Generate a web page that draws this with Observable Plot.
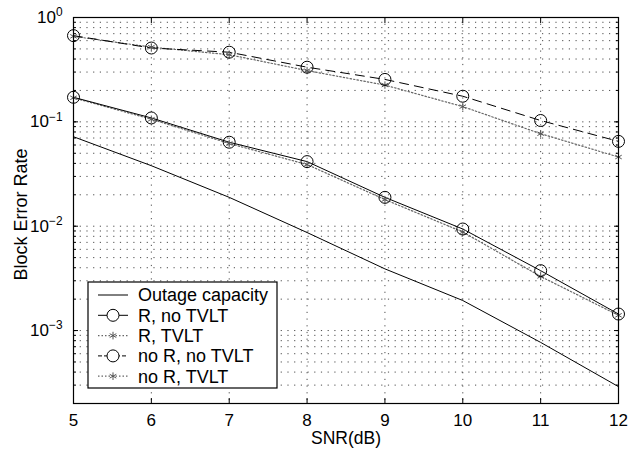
<!DOCTYPE html>
<html>
<head>
<meta charset="utf-8">
<script src="https://cdn.jsdelivr.net/npm/d3@7"></script>
<script src="https://cdn.jsdelivr.net/npm/@observablehq/plot@0.6"></script>
<style>
  html, body { margin: 0; padding: 0; background: #fff; }
  #chart { width: 639px; height: 453px; }
</style>
</head>
<body>
<div id="chart"></div>
<script>
// ---- data ----
const snr = [5, 6, 7, 8, 9, 10, 11, 12];
const outage     = [0.072, 0.038, 0.0189, 0.0087, 0.0039, 0.00194, 0.00077, 0.00029];
const rNoTvlt    = [0.172, 0.109, 0.0638, 0.0416, 0.0189, 0.0094, 0.00375, 0.00144];
const rTvlt      = [0.170, 0.106, 0.0620, 0.0390, 0.0180, 0.0088, 0.00330, 0.00140];
const noRNoTvlt  = [0.67, 0.51, 0.465, 0.334, 0.255, 0.176, 0.103, 0.065];
const noRTvlt    = [0.66, 0.52, 0.44, 0.31, 0.225, 0.14, 0.077, 0.046];
const seriesNames = ["Outage capacity", "R, no TVLT", "R, TVLT", "no R, no TVLT", "no R, TVLT"];
const xTicks = [5, 6, 7, 8, 9, 10, 11, 12];
const yTicks = [1e-3, 1e-2, 1e-1, 1];
const yMinor = [];
for (let e = -4; e <= 0; e++) for (let m = 1; m <= 9; m++) {
  const v = m * Math.pow(10, e);
  if (v >= 2e-4 - 1e-12 && v <= 1 + 1e-12) yMinor.push(+v.toPrecision(3));
}

const rows = (ys) => snr.map((x, i) => ({x, y: ys[i]}));
const dOut = rows(outage), dR = rows(rNoTvlt), dRT = rows(rTvlt), dN = rows(noRNoTvlt), dNT = rows(noRTvlt);

const font = "'Liberation Sans', Arial, Helvetica, sans-serif";
const FS_TICK = 17, FS_LABEL = 17.5, FS_LEG = 18;
const gridStyle = {stroke: "#222", strokeOpacity: 0.8, strokeDasharray: "1.2,5.5", strokeWidth: 1};
const noText = () => "";

const plot = Plot.plot({
  width: 639,
  height: 453,
  marginLeft: 73,
  marginRight: 21,
  marginTop: 17,
  marginBottom: 50,
  style: {fontFamily: font, fontSize: FS_TICK + "px", color: "#000", background: "#fff"},
  x: {domain: [5, 12]},
  y: {type: "log", domain: [2e-4, 1]},
  marks: [
    Plot.ruleY(yMinor, gridStyle),
    Plot.ruleX(xTicks, gridStyle),
    // axes: labels
    Plot.axisX({ticks: xTicks, tickSize: 0, tickPadding: 10, tickFormat: d => String(d), label: null, fontSize: FS_TICK}),
    Plot.axisY({ticks: yTicks, tickSize: 0, tickPadding: 11, tickFormat: d => "10^" + Math.round(Math.log10(d)), label: null, fontSize: FS_TICK}),
    // inward ticks
    Plot.axisX({ticks: xTicks, tickSize: -5, tickFormat: noText, label: null}),
    Plot.axisX({anchor: "top", ticks: xTicks, tickSize: -5, tickFormat: noText, label: null}),
    Plot.axisY({ticks: yTicks, tickSize: -5, tickFormat: noText, label: null}),
    Plot.axisY({anchor: "right", ticks: yTicks, tickSize: -5, tickFormat: noText, label: null}),
    Plot.axisY({ticks: yMinor, tickSize: -3, tickFormat: noText, label: null}),
    Plot.axisY({anchor: "right", ticks: yMinor, tickSize: -3, tickFormat: noText, label: null}),
    // curves
    Plot.line(dOut, {x: "x", y: "y", stroke: "#000", strokeWidth: 1}),
    Plot.line(dRT, {x: "x", y: "y", stroke: "#666", strokeWidth: 1.2, strokeDasharray: "1.5,2"}),
    Plot.line(dR, {x: "x", y: "y", stroke: "#000", strokeWidth: 1}),
    Plot.line(dNT, {x: "x", y: "y", stroke: "#666", strokeWidth: 1.2, strokeDasharray: "1.5,2"}),
    Plot.line(dN, {x: "x", y: "y", stroke: "#000", strokeWidth: 1, strokeDasharray: "9,6"}),
    Plot.dot(dRT, {x: "x", y: "y", symbol: "asterisk", r: 3.5, stroke: "#555", strokeWidth: 1}),
    Plot.dot(dNT, {x: "x", y: "y", symbol: "asterisk", r: 3.5, stroke: "#555", strokeWidth: 1}),
    Plot.dot(dR, {x: "x", y: "y", symbol: "circle", r: 6, stroke: "#000", fill: "none", strokeWidth: 1}),
    Plot.dot(dN, {x: "x", y: "y", symbol: "circle", r: 6, stroke: "#000", fill: "none", strokeWidth: 1}),
    Plot.frame({stroke: "#000", strokeWidth: 1.2}),
    Plot.text(["SNR(dB)"], {frameAnchor: "bottom", textAnchor: "middle", dy: 40, fontSize: FS_LABEL, fill: "#000"}),
    Plot.text(["Block Error Rate"], {frameAnchor: "left", textAnchor: "middle", rotate: -90, dx: -52, dy: 4, fontSize: 18, fill: "#000"})
  ]
});

// tick label size + superscript exponents on y tick labels
plot.querySelectorAll('g[aria-label="x-axis tick label"] text, g[aria-label="y-axis tick label"] text').forEach(t => {
  t.style.fontSize = FS_TICK + "px";
  t.style.fontFamily = font;
});
plot.querySelectorAll("text").forEach(t => {
  const s = t.textContent;
  const m = /^10\^(-?\d+)$/.exec(s);
  if (m) {
    t.textContent = "10";
    const ts = document.createElementNS("http://www.w3.org/2000/svg", "tspan");
    ts.setAttribute("dy", "-0.55em");
    ts.setAttribute("font-size", "0.7em");
    ts.textContent = m[1].replace("-", "\u2212");
    t.appendChild(ts);
  }
});

// legend (inside the plot, lower left)
const svg = d3.select(plot);
const lg = svg.append("g").attr("font-family", font).attr("font-size", FS_LEG).attr("text-anchor", "start");
const lx = 88, ly = 282, lw = 189, lh = 106;
lg.append("rect").attr("x", lx).attr("y", ly).attr("width", lw).attr("height", lh)
  .attr("fill", "#fff").attr("stroke", "#000").attr("stroke-width", 1.2);
const styles = [
  {stroke: "#000", dash: null, sw: 1, marker: null},
  {stroke: "#000", dash: null, sw: 1, marker: "circle"},
  {stroke: "#666", dash: "1.5,2", sw: 1.2, marker: "asterisk"},
  {stroke: "#000", dash: "4,2", sw: 1, marker: "circle"},
  {stroke: "#666", dash: "1.5,2", sw: 1.2, marker: "asterisk"}
];
seriesNames.forEach((name, i) => {
  const y = ly + 13 + i * 20.3;
  const st = styles[i];
  lg.append("line").attr("x1", lx + 10).attr("x2", lx + 40).attr("y1", y).attr("y2", y)
    .attr("stroke", st.stroke).attr("stroke-width", st.sw).attr("stroke-dasharray", st.dash);
  if (st.marker === "circle") {
    lg.append("circle").attr("cx", lx + 25).attr("cy", y).attr("r", 6)
      .attr("fill", "#fff").attr("stroke", "#000");
  } else if (st.marker === "asterisk") {
    lg.append("path").attr("transform", `translate(${lx + 25},${y})`)
      .attr("d", d3.symbol(d3.symbolAsterisk, 40)()).attr("stroke", "#555").attr("fill", "none");
  }
  lg.append("text").attr("x", lx + 50).attr("y", y).attr("dy", "0.35em").attr("fill", "#000").text(name);
});

document.getElementById("chart").appendChild(plot);
</script>
</body>
</html>
